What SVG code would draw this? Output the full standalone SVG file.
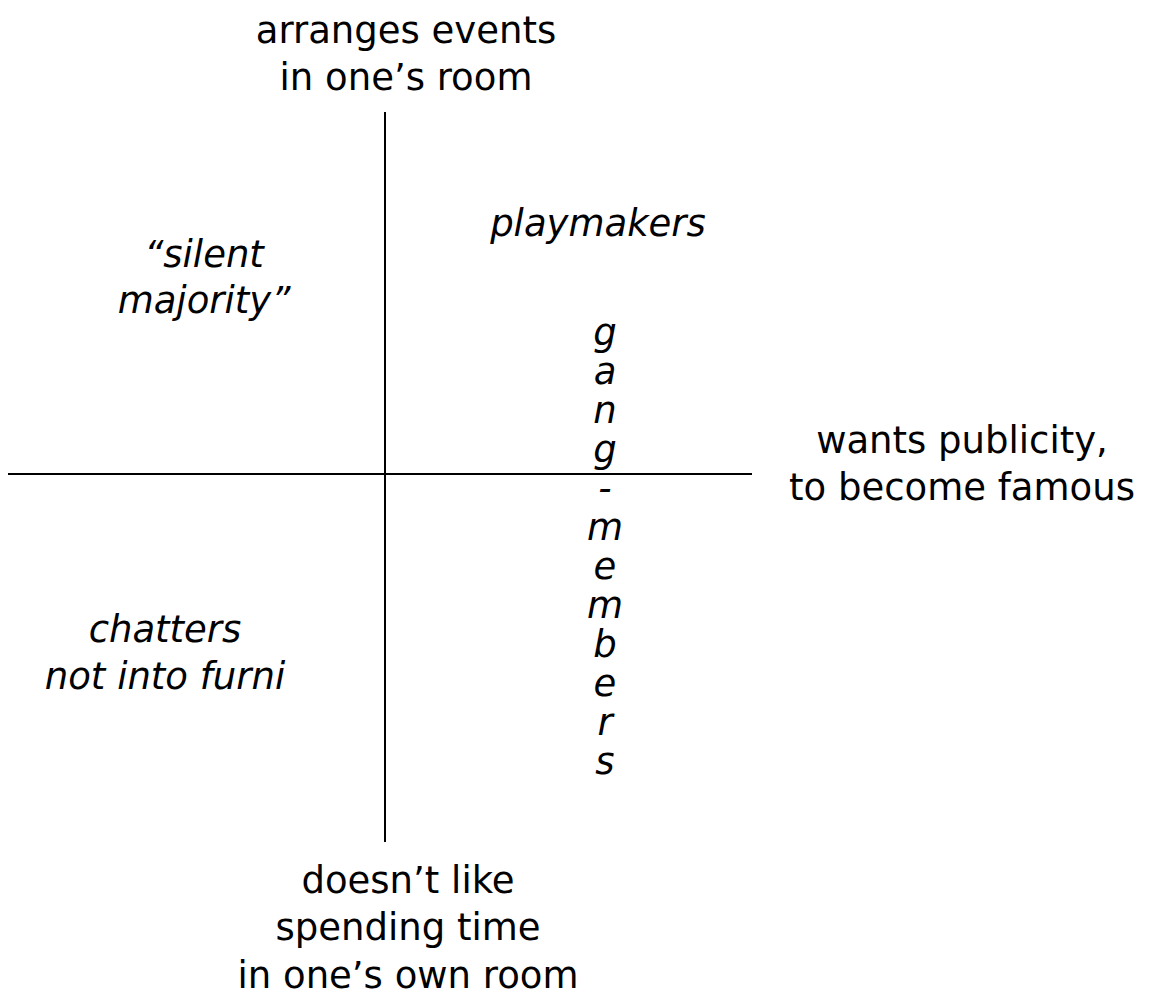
<svg xmlns="http://www.w3.org/2000/svg" width="1156" height="1003" viewBox="0 0 1156 1003">
<style>
text{font-family:"DejaVu Sans","Verdana",sans-serif;font-size:37px;fill:#000;text-anchor:middle}
.it{font-style:italic}
.ax{stroke:#000;stroke-width:2;fill:none}
</style>
<rect width="1156" height="1003" fill="#fff"/>
<g id="connectors">
<line class="ax" x1="385" y1="112" x2="385" y2="842"/>
<line class="ax" x1="8" y1="474" x2="752" y2="474"/>
</g>
<g id="top"><text x="406" y="43">arranges events</text><text x="406" y="90">in one’s room</text></g>
<g id="bottom"><text x="408" y="893">doesn’t like</text><text x="408" y="940">spending time</text><text x="408" y="988">in one’s own room</text></g>
<g id="right"><text x="962" y="453">wants publicity,</text><text x="962" y="500">to become famous</text></g>
<g id="playmakers"><text class="it" x="598" y="236">playmakers</text></g>
<g id="silent"><text class="it" x="204" y="267">“silent</text><text class="it" x="204" y="313">majority”</text></g>
<g id="chatters"><text class="it" x="165" y="642">chatters</text><text class="it" x="165" y="689">not into furni</text></g>
<g id="gang"><text class="it" x="605" y="345">g</text><text class="it" x="605" y="384">a</text><text class="it" x="605" y="423">n</text><text class="it" x="605" y="462">g</text><text class="it" x="605" y="501">-</text><text class="it" x="605" y="540">m</text><text class="it" x="605" y="579">e</text><text class="it" x="605" y="618">m</text><text class="it" x="605" y="657">b</text><text class="it" x="605" y="696">e</text><text class="it" x="605" y="735">r</text><text class="it" x="605" y="774">s</text></g>
</svg>
